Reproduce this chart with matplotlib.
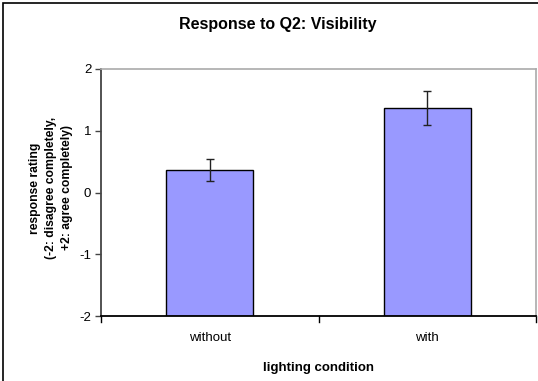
import matplotlib.pyplot as plt
import numpy as np
from matplotlib.patches import Rectangle

plt.rcParams["font.family"] = "Liberation Sans"

# data
conditions = ["without", "with"]
mean_rating = [0.36, 1.36]
rating_err = [0.18, 0.275]
y_ticks = [-2, -1, 0, 1, 2]

W, H = 538, 381
fig = plt.figure(figsize=(W / 100, H / 100), dpi=100)

# outer chart border (right/bottom edges are cropped off in the original)
fig.patches.append(Rectangle((3 / W, -0.05), 1.1, 1 - 3 / H + 0.05,
                             transform=fig.transFigure, fill=False,
                             edgecolor="black", linewidth=1.2))

ax = fig.add_axes([101 / W, 1 - 316.3 / H, 435 / W, 247.6 / H])

x = np.arange(len(conditions))
base = -2
heights = [m - base for m in mean_rating]
ax.bar(x, heights, bottom=base, width=0.4, color="#9999FF",
       edgecolor="black", linewidth=1.0, zorder=2)
ax.errorbar(x, mean_rating, yerr=rating_err, fmt="none", ecolor="#222222",
            elinewidth=1.0, capsize=2.6, capthick=1.0, zorder=3)

ax.set_xlim(-0.5, 1.5)
ax.set_ylim(-2, 2)
ax.set_yticks(y_ticks)
ax.set_yticklabels([str(v) for v in y_ticks], fontsize=9.5)
ax.set_xticks(x)
ax.set_xticklabels(conditions, fontsize=9.5)
ax.tick_params(axis="x", length=0, pad=11)
ax.tick_params(axis="y", length=4, width=1, color="#444444", pad=3)

# category boundary ticks on the x axis
for xb in [-0.5, 0.5, 1.5]:
    ax.plot([xb, xb], [0, -0.025], transform=ax.get_xaxis_transform(),
            color="black", linewidth=1, clip_on=False)

ax.spines["left"].set_color("#444444")
ax.spines["left"].set_linewidth(1.3)
ax.spines["bottom"].set_color("black")
ax.spines["bottom"].set_linewidth(1.3)
ax.spines["top"].set_color("#AAAAAA")
ax.spines["right"].set_color("#AAAAAA")
ax.spines["top"].set_linewidth(1.2)
ax.spines["right"].set_linewidth(1.2)

ax.set_xlabel("lighting condition", fontsize=9.5, fontweight="bold", labelpad=13)

# y label placed by hand, Excel-like loose line spacing
fig.text(51 / W, 1 - 188 / H,
         "response rating\n(-2: disagree completely,\n+2: agree completely)",
         fontsize=8.7, fontweight="bold", rotation=90, linespacing=1.45,
         ha="center", va="center", multialignment="center")

fig.text(277.6 / W, 1 - 25 / H, "Response to Q2: Visibility", fontsize=11.5,
         fontweight="bold", ha="center", va="center")

fig.savefig("out.png", dpi=100)
